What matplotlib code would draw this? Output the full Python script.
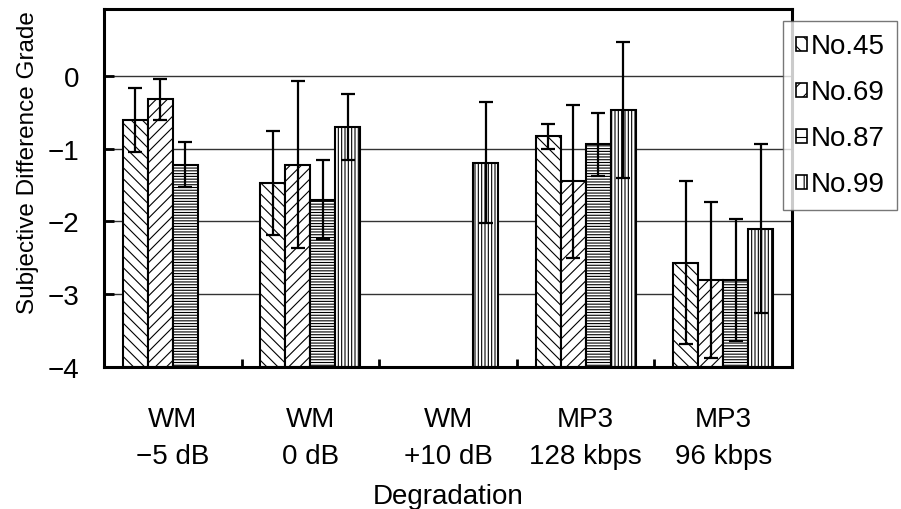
import numpy as np
import matplotlib.pyplot as plt
from matplotlib.patches import Patch

plt.rcParams['font.family'] = ['Liberation Sans', 'DejaVu Sans']
plt.rcParams['hatch.linewidth'] = 0.8

groups = ['WM\n\u22125 dB', 'WM\n0 dB', 'WM\n+10 dB', 'MP3\n128 kbps', 'MP3\n96 kbps']
series = ['No.45', 'No.69', 'No.87', 'No.99']

# mean grades, None = not tested
no45 = [-0.61, -1.47, None, -0.83, -2.57]
no69 = [-0.32, -1.22, None, -1.45, -2.80]
no87 = [-1.22, -1.70, None, -0.94, -2.80]
no99 = [None, -0.70, -1.19, -0.47, -2.10]

# error bar half lengths
no45_err = [0.44, 0.71, None, 0.17, 1.12]
no69_err = [0.28, 1.15, None, 1.05, 1.07]
no87_err = [0.31, 0.54, None, 0.43, 0.84]
no99_err = [None, 0.45, 0.83, 0.93, 1.16]

vals = [no45, no69, no87, no99]
errs = [no45_err, no69_err, no87_err, no99_err]
hatches = ['\\\\\\', '///', '------', '|||||']

fig = plt.figure(figsize=(9.01, 5.10), dpi=100)
ax = fig.add_axes([104/901, 1-368/510, (792-104)/901, (368-10)/510])

w = 1/5.5
x = np.arange(len(groups))
for i in range(4):
    xs = [x[j] + (i-1.5)*w for j in range(len(groups)) if vals[i][j] is not None]
    ys = [v for v in vals[i] if v is not None]
    es = [e for e in errs[i] if e is not None]
    # bars hang from the bottom of the axis
    ax.bar(xs, [y+4 for y in ys], bottom=-4, width=w, color='white',
           edgecolor='black', linewidth=1.5, hatch=hatches[i], zorder=2)
    ax.errorbar(xs, ys, yerr=es, fmt='none', ecolor='black', elinewidth=1.6,
                capsize=5, capthick=1.6, zorder=3)

ax.set_xlim(-0.5, 4.5)
ax.set_ylim(-4, 0.92)
ax.set_yticks([0, -1, -2, -3, -4])
ax.yaxis.grid(True, color='#333333', linewidth=1.0)
ax.set_axisbelow(True)
for s in ax.spines.values():
    s.set_linewidth(2.2)

ax.set_xticks(x)
ax.set_xticklabels(groups, fontsize=20, linespacing=1.55)
ax.set_xticks(x[:-1] + 0.5, minor=True)
ax.tick_params(axis='x', which='major', length=0, pad=28)
ax.tick_params(axis='x', which='minor', direction='in', length=6, width=2)
ax.tick_params(axis='y', direction='in', length=7, width=2, labelsize=20, pad=18)

ax.set_xlabel('Degradation', fontsize=20, labelpad=10)
ax.set_ylabel('Subjective Difference Grade', fontsize=17.5)
ax.yaxis.set_label_coords(-0.095, 0.573)

handles = [Patch(facecolor='white', edgecolor='black', hatch=h[:2], linewidth=1.2) for h in hatches]
fig.legend(handles, series, loc='upper left', bbox_to_anchor=(783/901, 1-22/510),
           fontsize=20, frameon=True, fancybox=False, edgecolor='#555555',
           borderaxespad=0, borderpad=0.45, handlelength=0.4, handleheight=0.4,
           handletextpad=0.15, labelspacing=0.72)

plt.savefig('out.png', dpi=100)
